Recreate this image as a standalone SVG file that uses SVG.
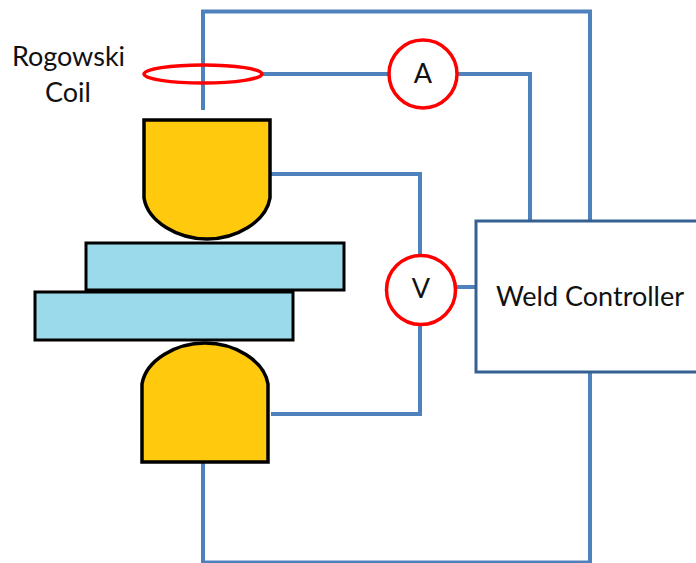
<svg xmlns="http://www.w3.org/2000/svg" width="696" height="563" viewBox="0 0 696 563">
<style>
.w{fill:none;stroke:#4f81bd;stroke-width:4}
.t{font-family:Lato,"Open Sans","Liberation Sans",sans-serif;fill:#111;font-size:27px;text-anchor:middle}
.e{fill:#ffc90e;stroke:#000;stroke-width:3.500}
.p{fill:#9bdaea;stroke:#000;stroke-width:3}
.m{fill:#fff;stroke:#f00;stroke-width:3.500}
</style>
<rect width="696" height="563" fill="#fff"/>
<g id="connectors">
<path class="w" d="M203 110V11.500H590V221"/>
<path class="w" d="M263 74H389M458 74H530V220"/>
<path class="w" d="M271 174H420V255M420 326V414H271"/>
<path class="w" d="M456 287H476"/>
<path class="w" d="M203 463V562.500H590V372"/>
</g>
<g id="rogowski-coil">
<ellipse cx="203" cy="74" rx="59" ry="9" fill="none" stroke="#f00" stroke-width="3.500"/>
<text class="t" x="68.500" y="66">Rogowski</text>
<text class="t" x="68" y="102">Coil</text>
</g>
<g id="ammeter"><circle class="m" cx="423" cy="74" r="34"/><text class="t" x="423" y="83">A</text></g>
<g id="voltmeter"><circle class="m" cx="421" cy="290" r="34.500"/><text class="t" x="421" y="298">V</text></g>
<g id="upper-electrode"><path class="e" d="M144 120H270V198C266 222 236 239 207 239C178 239 148 222 144 198Z"/></g>
<g id="sheet-top"><rect class="p" x="86" y="243" width="258" height="47"/></g>
<g id="sheet-bottom"><rect class="p" x="35" y="292" width="258" height="48"/></g>
<g id="lower-electrode"><path class="e" d="M142 462V384C146 360 176 343 205 343C234 343 264 360 268 384V462Z"/></g>
<g id="weld-controller">
<path d="M696 221H476V372H696" fill="#fff" stroke="#376092" stroke-width="3"/>
<text class="t" x="590" y="306">Weld Controller</text>
</g>
</svg>
